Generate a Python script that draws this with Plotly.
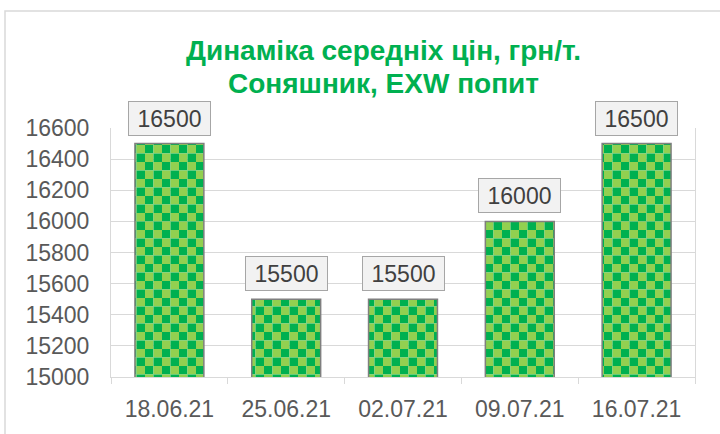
import plotly.graph_objects as go

categories = ["18.06.21", "25.06.21", "02.07.21", "09.07.21", "16.07.21"]
values = [16500, 15500, 15500, 16000, 16500]
title_lines = ["Динаміка середніх цін, грн/т.", "Соняшник, EXW попит"]

DARK = "#00B050"
LIGHT = "#92D050"
FONT = "Liberation Sans, Arial, sans-serif"

fig = go.Figure()
fig.add_trace(go.Bar(
    x=categories, y=values, width=0.59,
    marker=dict(
        color=LIGHT,
        line=dict(color="#7F7F7F", width=1.5),
        pattern=dict(shape="+", bgcolor=LIGHT, fgcolor=DARK, size=17, solidity=0.3, fillmode="replace"),
    ),
    hoverinfo="x+y",
))

annotations = []
for c, v in zip(categories, values):
    annotations.append(dict(
        x=c, y=v, xref="x", yref="y", text=str(v), showarrow=False,
        yanchor="bottom", yshift=8, width=75, height=27, borderpad=3,
        bgcolor="#F2F2F2", bordercolor="#A6A6A6", borderwidth=1,
        font=dict(family=FONT, size=23, color="#404040"),
    ))

for i, (line, ypos) in enumerate(zip(title_lines, [1.312, 1.178])):
    annotations.append(dict(
        x=0.4658, y=ypos, xref="paper", yref="paper", text="<b>%s</b>" % line,
        showarrow=False, xanchor="center", yanchor="middle",
        font=dict(family=FONT, size=28, color=DARK),
    ))

fig.update_layout(
    width=720, height=434,
    margin=dict(l=111, r=25, t=128, b=53),
    paper_bgcolor="white", plot_bgcolor="white",
    showlegend=False, bargap=0.41,
    annotations=annotations,
    shapes=[dict(type="rect", xref="paper", yref="paper",
                 x0=-106 / 584, x1=(720 - 111 + 20) / 584, y0=-0.5, y1=(381 - 9) / 253,
                 line=dict(color="#D9D9D9", width=1.5), fillcolor="rgba(0,0,0,0)", layer="below")],
    xaxis=dict(
        type="category", showgrid=False, showline=True, linecolor="#D9D9D9", linewidth=1,
        ticks="outside", tickson="boundaries", ticklen=6, tickcolor="#D9D9D9",
        tickfont=dict(family=FONT, size=23, color="#595959"), ticklabelstandoff=11,
    ),
    yaxis=dict(
        range=[15000, 16600], dtick=200, showgrid=True, gridcolor="#D9D9D9", gridwidth=1,
        showline=True, mirror=True, linecolor="#D9D9D9", linewidth=1, zeroline=False,
        tickfont=dict(family=FONT, size=23, color="#595959"), ticklabelstandoff=16,
        tickformat="d",
    ),
)

post = """
document.body.style.margin = '0';
var gd = document.getElementById('{plot_id}');
function applyChecker(){
  var ns = 'http://www.w3.org/2000/svg';
  var svg = gd.querySelector('svg.main-svg');
  if(!svg) return;
  var defs = svg.querySelector('defs');
  if(!document.getElementById('checker-pat')){
    var p = document.createElementNS(ns, 'pattern');
    p.setAttribute('id', 'checker-pat');
    p.setAttribute('patternUnits', 'userSpaceOnUse');
    p.setAttribute('width', 17); p.setAttribute('height', 17);
    var cells = [[0,0,'%s'],[8.5,0,'%s'],[0,8.5,'%s'],[8.5,8.5,'%s']];
    cells.forEach(function(c){
      var r = document.createElementNS(ns, 'rect');
      r.setAttribute('x', c[0]); r.setAttribute('y', c[1]);
      r.setAttribute('width', 8.5); r.setAttribute('height', 8.5);
      r.setAttribute('fill', c[2]);
      p.appendChild(r);
    });
    defs.appendChild(p);
  }
  gd.querySelectorAll('.barlayer .point path').forEach(function(el){
    el.style.fill = 'url(#checker-pat)';
  });
}
applyChecker();
gd.on('plotly_afterplot', applyChecker);
""" % (DARK, LIGHT, LIGHT, DARK)

fig.write_html("out.html", post_script=post, config={"displayModeBar": False})
